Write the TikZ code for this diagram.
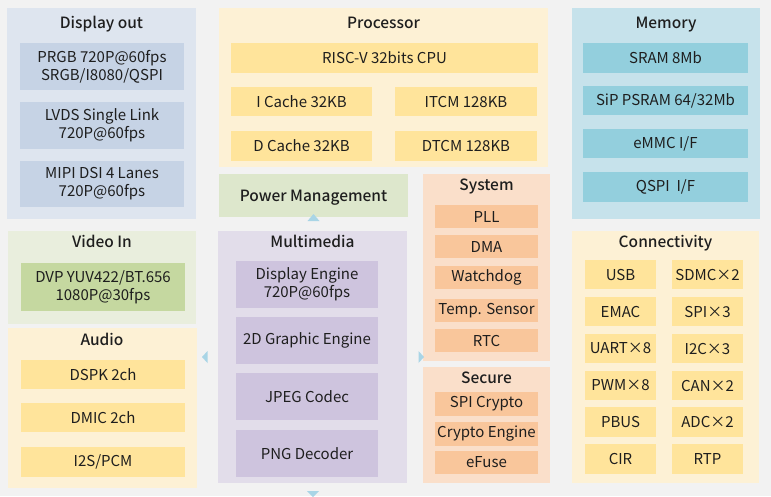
\documentclass[tikz,border=0pt]{standalone}
\usepackage{fontspec}
\setmainfont{Noto Sans CJK SC}[BoldFont={Noto Sans CJK SC Medium}]
\usepackage{tikz}
\definecolor{bgc}{HTML}{F2F2F2}
\definecolor{txt}{HTML}{1E1E1E}
\definecolor{dspo}{HTML}{DEE5EF}
\definecolor{dspi}{HTML}{C6D3E5}
\definecolor{yelo}{HTML}{FDF1D5}
\definecolor{yeli}{HTML}{FFE49B}
\definecolor{grno}{HTML}{E9EEDD}
\definecolor{grnp}{HTML}{DDE7CC}
\definecolor{grni}{HTML}{C5D8A0}
\definecolor{orgo}{HTML}{FADFCA}
\definecolor{orgi}{HTML}{F9C69B}
\definecolor{vioo}{HTML}{E2DDEA}
\definecolor{vioi}{HTML}{CEC4DE}
\definecolor{bluo}{HTML}{C6E2EB}
\definecolor{blui}{HTML}{93CFDD}
\definecolor{arr}{HTML}{A9D5E6}

\begin{document}
\begin{tikzpicture}[x=1pt,y=-1pt,
	wh/.style 2 args={minimum width=#1,minimum height=#2},
	grp/.style={anchor=north west,inner sep=0,outer sep=0},
	blk/.style={anchor=north west,inner sep=0,outer sep=0,align=center,text=txt,font=\fontsize{15}{18}\selectfont},
	ttl/.style={inner sep=0,text height=11pt,text depth=0pt,text=txt,font=\fontsize{15.5}{18}\selectfont\bfseries}]
	\useasboundingbox[fill=bgc] (0,0) rectangle (771,496);
	\path (7,8) node(dsp)[grp,fill=dspo,wh={189}{211}]{}
		(101.5,22.5) node(dspt)[ttl]{Display out}
		(20,43) node(po)[blk,fill=dspi,wh={164}{47}]{PRGB 720P@60fps\\SRGB/I8080/QSPI}
		(20,102) node(lvds)[blk,fill=dspi,wh={164}{47}]{LVDS Single Link\\720P@60fps}
		(20,161) node(mipi)[blk,fill=dspi,wh={164}{46}]{MIPI DSI 4 Lanes\\720P@60fps};
	\path (219,8) node(prc)[grp,fill=yelo,wh={329}{159}]{}
		(383.5,22.5) node(prct)[ttl]{Processor}
		(231,43) node(cpu)[blk,fill=yeli,wh={307}{30}]{RISC-V 32bits CPU}
		(231,87) node(ic)[blk,fill=yeli,wh={141}{29}]{I Cache 32KB}
		(395,87) node(itcm)[blk,fill=yeli,wh={142}{29}]{ITCM 128KB}
		(231,131) node(dc)[blk,fill=yeli,wh={141}{30}]{D Cache 32KB}
		(395,131) node(dtcm)[blk,fill=yeli,wh={142}{30}]{DTCM 128KB};
	\path (219,174) node(pwr)[grp,fill=grnp,wh={189}{43},text height=11pt,text depth=0pt,text=txt,font=\fontsize{15.5}{18}\selectfont\bfseries]{Power Management};
	\path (423,174) node(sys)[grp,fill=orgo,wh={127}{187}]{}
		(486.5,185) node(syst)[ttl]{System}
		(435,205) node(pll)[blk,fill=orgi,wh={103}{23}]{PLL}
		(435,235) node(dma)[blk,fill=orgi,wh={103}{23}]{DMA}
		(435,266) node(wdg)[blk,fill=orgi,wh={103}{23}]{Watchdog}
		(435,299) node(tmp)[blk,fill=orgi,wh={103}{23}]{Temp. Sensor}
		(435,329) node(rtc)[blk,fill=orgi,wh={103}{23}]{RTC};
	\path (423,367) node(sec)[grp,fill=orgo,wh={127}{116}]{}
		(486.5,378) node(sect)[ttl]{Secure}
		(435,392) node(spic)[blk,fill=orgi,wh={103}{24}]{SPI Crypto}
		(435,422) node(cre)[blk,fill=orgi,wh={103}{24}]{Crypto Engine}
		(435,451) node(efu)[blk,fill=orgi,wh={103}{23}]{eFuse};
	\path (218,231) node(mm)[grp,fill=vioo,wh={189}{252}]{}
		(312.5,242) node(mmt)[ttl]{Multimedia}
		(236,261) node(de)[blk,fill=vioi,wh={142}{47}]{Display Engine\\720P@60fps}
		(236,317) node(g2d)[blk,fill=vioi,wh={142}{47}]{2D Graphic Engine}
		(236,373) node(jpg)[blk,fill=vioi,wh={142}{47}]{JPEG Codec}
		(236,430) node(png)[blk,fill=vioi,wh={142}{47}]{PNG Decoder};
	\path (572,8) node(mem)[grp,fill=bluo,wh={188}{211}]{}
		(666,22.5) node(memt)[ttl]{Memory}
		(583,43) node(sram)[blk,fill=blui,wh={165}{30}]{SRAM 8Mb}
		(583,86) node(sip)[blk,fill=blui,wh={165}{29}]{SiP PSRAM 64/32Mb}
		(583,129) node(emmc)[blk,fill=blui,wh={165}{29}]{eMMC I/F}
		(583,172) node(qspi)[blk,fill=blui,wh={165}{30}]{QSPI\ \ I/F};
	\path (8,231) node(vin)[grp,fill=grno,wh={188}{93}]{}
		(102,242) node(vint)[ttl]{Video In}
		(21,263) node(dvp)[blk,fill=grni,wh={164}{48}]{DVP YUV422/BT.656\\1080P@30fps};
	\path (8,328) node(aud)[grp,fill=yelo,wh={189}{160}]{}
		(102,340) node(audt)[ttl]{Audio}
		(21,360) node(dspk)[blk,fill=yeli,wh={164}{29}]{DSPK 2ch}
		(21,403) node(dmic)[blk,fill=yeli,wh={164}{29}]{DMIC 2ch}
		(21,447) node(i2s)[blk,fill=yeli,wh={164}{30}]{I2S/PCM};
	\path (572,231) node(con)[grp,fill=yelo,wh={187}{252}]{}
		(665.5,242) node(cont)[ttl]{Connectivity}
		(585,260) node(usb)[blk,fill=yeli,wh={71}{29}]{USB}
		(672,260) node(sdmc)[blk,fill=yeli,wh={71}{29}]{SDMC×2}
		(585,297) node(emac)[blk,fill=yeli,wh={71}{29}]{EMAC}
		(672,297) node(spi)[blk,fill=yeli,wh={71}{29}]{SPI×3}
		(585,334) node(uart)[blk,fill=yeli,wh={71}{29}]{UART×8}
		(672,334) node(iic)[blk,fill=yeli,wh={71}{29}]{I2C×3}
		(585,371) node(pwm)[blk,fill=yeli,wh={71}{29}]{PWM×8}
		(672,371) node(can)[blk,fill=yeli,wh={71}{29}]{CAN×2}
		(585,407) node(pbus)[blk,fill=yeli,wh={71}{30}]{PBUS}
		(672,407) node(adc)[blk,fill=yeli,wh={71}{30}]{ADC×2}
		(585,444) node(cir)[blk,fill=yeli,wh={71}{30}]{CIR}
		(672,444) node(rtp)[blk,fill=yeli,wh={71}{30}]{RTP};
	\fill[arr] (307.5,221) -- (319.5,221) -- (313.5,214) -- cycle;
	\fill[arr] (202,357) -- (207.5,351) -- (207.5,363) -- cycle;
	\fill[arr] (424,357) -- (418.5,351) -- (418.5,363) -- cycle;
	\fill[arr] (307,491) -- (319,491) -- (313,497) -- cycle;
\end{tikzpicture}
\end{document}
